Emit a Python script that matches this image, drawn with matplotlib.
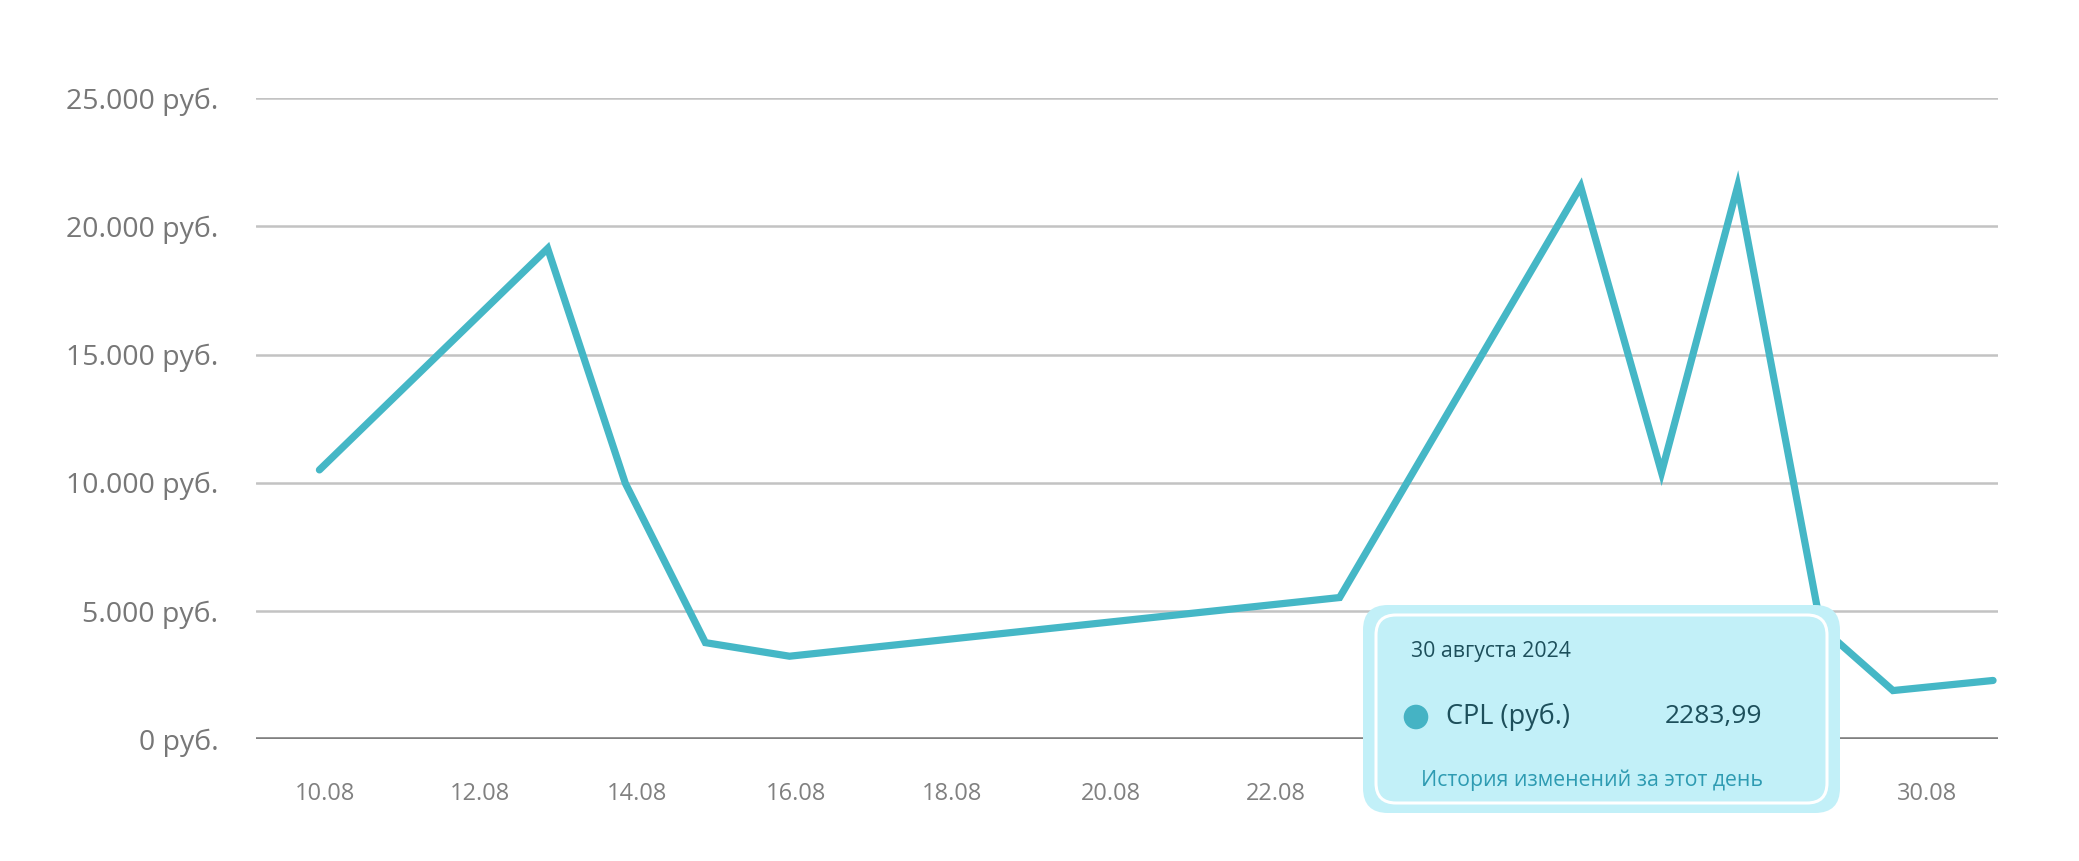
import matplotlib
matplotlib.use('Agg')
import matplotlib.pyplot as plt
from matplotlib.patches import FancyBboxPatch, Circle
from matplotlib.ticker import FuncFormatter

plt.rcParams['font.family'] = ['Open Sans', 'DejaVu Sans']

# x in days, y in rubles
days = [9.93, 12.78, 13.75, 14.75, 15.80, 22.67, 25.68, 26.69, 27.64, 28.68, 29.58, 30.83]
cpl = [10500, 19140, 9980, 3760, 3230, 5520, 21560, 10400, 21560, 4370, 1890, 2283.99]

# labels 24.08-28.08 sit under the tooltip in the original, so only the visible ones
tick_pos = [10, 11.94, 13.9, 15.88, 17.83, 19.82, 21.87, 30]
tick_labels = ['10.08', '12.08', '14.08', '16.08', '18.08', '20.08', '22.08', '30.08']
y_ticks = [0, 5000, 10000, 15000, 20000, 25000]

tip_date = '30 августа 2024'
tip_series = 'CPL (руб.)'
tip_value = '2283,99'
tip_link = 'История изменений за этот день'

line_color = '#45b7c6'
W, H = 2079, 861

fig = plt.figure(figsize=(W / 100, H / 100), dpi=100)
ax = fig.add_axes([256 / W, (H - 739) / H, (1997.7 - 256) / W, (739 - 98.3) / H])

ax.plot(days, cpl, color=line_color, lw=5.2, solid_capstyle='round',
        solid_joinstyle='miter', zorder=3, clip_on=False)

ax.set_xlim(9.138, 30.888)
ax.set_ylim(0, 25000)
ax.set_yticks(y_ticks)
ax.yaxis.set_major_formatter(FuncFormatter(
    lambda v, p: '{:,.0f} руб.'.format(v).replace(',', '.')))
ax.set_xticks(tick_pos)
ax.set_xticklabels(tick_labels)

for y in y_ticks[1:]:
    ax.axhline(y, color='#c3c3c3', lw=1.8, solid_capstyle='round', zorder=1)
ax.axhline(0, color='#808080', lw=2.6, solid_capstyle='round', zorder=2)

for s in ax.spines.values():
    s.set_visible(False)
ax.tick_params(axis='both', length=0)
ax.tick_params(axis='y', pad=27, labelsize=20.5, labelcolor='#777777')
ax.tick_params(axis='x', pad=31, labelsize=17, labelcolor='#808080')

# tooltip drawn in figure pixel space
ov = fig.add_axes([0, 0, 1, 1])
ov.set_xlim(0, W)
ov.set_ylim(H, 0)
ov.axis('off')
ov.set_zorder(5)

ov.add_patch(FancyBboxPatch((1363 + 25, 605 + 25), 477 - 50, 208 - 50,
                            boxstyle='round,pad=25', fc='#c2f0f8', ec='none'))
ov.add_patch(FancyBboxPatch((1376 + 20, 615 + 20), 451 - 40, 188 - 40,
                            boxstyle='round,pad=20', fc='none', ec='white', lw=2.2))
ov.text(1411, 652, tip_date, fontsize=15.3, color='#1d4f5b', va='center', ha='left')
ov.add_patch(Circle((1416, 717), 12.3, fc='#45b3c4', ec='none'))
ov.text(1446, 717, tip_series, fontsize=19.5, color='#1d4f5b', va='center', ha='left')
ov.text(1762, 717, tip_value, fontsize=19, color='#1d4f5b', va='center', ha='right')
ov.text(1592, 780, tip_link, fontsize=15.3, color='#2e9bb2', va='center', ha='center')

fig.savefig('out.png', dpi=100)
